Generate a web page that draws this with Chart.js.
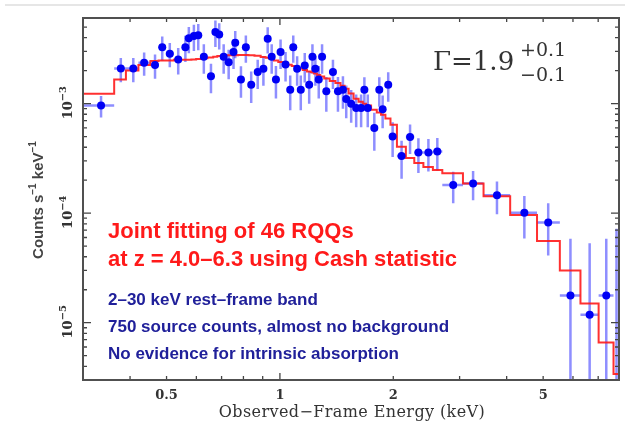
<!DOCTYPE html>
<html>
<head>
<meta charset="utf-8">
<script src="https://cdn.jsdelivr.net/npm/chart.js@4.4.0/dist/chart.umd.min.js"></script>
<style>
  body { margin: 0; background: #fff; }
  #wrap { position: relative; width: 627px; height: 425px; }
  #topline { position: absolute; left: 5px; top: 4px; width: 620px; height: 2px; background: #e6e6e6; }
  canvas { position: absolute; left: 0; top: 0; }
</style>
</head>
<body>
<div id="wrap">
  <div id="topline"></div>
  <canvas id="chartSpectrum" width="627" height="425"></canvas>
</div>
<script>
// observed-frame energy of each bin centre (keV)
const energy = [
  0.335, 0.378, 0.408, 0.436, 0.466, 0.487, 0.510, 0.537, 0.561, 0.573,
  0.591, 0.607, 0.628, 0.656, 0.674, 0.690, 0.709, 0.731, 0.753, 0.761,
  0.788, 0.812, 0.839, 0.873, 0.904, 0.928, 0.951, 0.976, 1.004, 1.035,
  1.065, 1.085, 1.111, 1.136, 1.164, 1.196, 1.220, 1.242, 1.268, 1.294,
  1.328, 1.383, 1.426, 1.470, 1.500, 1.546, 1.594, 1.643, 1.676, 1.711,
  1.781, 1.836, 1.874, 1.939, 1.992, 2.104, 2.216, 2.332, 2.479, 2.618,
  2.885, 3.258, 3.770, 4.457, 5.157, 5.908, 6.644, 7.355, 7.830
];
// counts s^-1 keV^-1
const counts = [
  9.6e-4, 2.09e-3, 2.09e-3, 2.36e-3, 2.25e-3, 3.28e-3, 2.86e-3, 2.53e-3, 3.28e-3, 3.95e-3,
  4.14e-3, 4.20e-3, 2.68e-3, 1.78e-3, 4.51e-3, 4.27e-3, 2.68e-3, 2.39e-3, 2.96e-3, 3.60e-3,
  1.66e-3, 3.28e-3, 1.49e-3, 1.94e-3, 2.08e-3, 3.92e-3, 2.68e-3, 1.66e-3, 2.96e-3, 2.28e-3,
  1.34e-3, 3.28e-3, 2.08e-3, 1.34e-3, 2.23e-3, 1.49e-3, 2.68e-3, 2.08e-3, 1.66e-3, 2.68e-3,
  1.30e-3, 1.94e-3, 1.30e-3, 1.34e-3, 1.10e-3, 1.00e-3, 9.1e-4, 9.1e-4, 1.34e-3, 9.1e-4,
  5.98e-4, 1.34e-3, 8.9e-4, 1.49e-3, 5.0e-4, 3.33e-4, 4.95e-4, 3.58e-4, 3.58e-4, 3.65e-4,
  1.81e-4, 1.87e-4, 1.46e-4, 1.01e-4, 8.2e-5, 1.77e-5, 1.18e-5, 1.77e-5, 2.0e-6
];
// 1-sigma error as a fraction of the value
const relErr = [
  0.22, 0.25, 0.25, 0.24, 0.25, 0.25, 0.25, 0.27, 0.27, 0.27,
  0.27, 0.27, 0.30, 0.30, 0.27, 0.27, 0.30, 0.30, 0.30, 0.28,
  0.32, 0.28, 0.32, 0.30, 0.30, 0.27, 0.30, 0.33, 0.30, 0.30,
  0.35, 0.28, 0.30, 0.35, 0.30, 0.33, 0.30, 0.30, 0.33, 0.30,
  0.35, 0.30, 0.35, 0.33, 0.33, 0.33, 0.33, 0.33, 0.30, 0.33,
  0.38, 0.30, 0.33, 0.30, 0.35, 0.38, 0.30, 0.35, 0.33, 0.33,
  0.32, 0.30, 0.33, 0.42, 0.50, 2.3, 3.5, 2.3, 35
];
// bin edges (keV), one more than the bins
const binEdges = [
  0.300, 0.363, 0.390, 0.421, 0.453, 0.476, 0.498, 0.523, 0.549, 0.567,
  0.582, 0.599, 0.617, 0.642, 0.665, 0.682, 0.700, 0.720, 0.742, 0.757,
  0.774, 0.800, 0.825, 0.856, 0.889, 0.916, 0.939, 0.964, 0.990, 1.020,
  1.050, 1.075, 1.098, 1.124, 1.150, 1.180, 1.208, 1.231, 1.255, 1.280,
  1.311, 1.356, 1.404, 1.448, 1.485, 1.522, 1.569, 1.618, 1.660, 1.694,
  1.746, 1.808, 1.855, 1.906, 1.966, 2.045, 2.160, 2.274, 2.404, 2.548,
  2.699, 3.062, 3.473, 4.087, 4.816, 5.537, 6.281, 7.019, 7.688, 8.220
];
// best-fit power law folded through the response, per bin
const model = [
  1.23e-3, 1.66e-3, 2.01e-3, 2.25e-3, 2.45e-3, 2.48e-3, 2.48e-3, 2.51e-3, 2.51e-3, 2.51e-3,
  2.53e-3, 2.56e-3, 2.59e-3, 2.64e-3, 2.68e-3, 2.72e-3, 2.74e-3, 2.76e-3, 2.77e-3, 2.77e-3,
  2.78e-3, 2.78e-3, 2.77e-3, 2.73e-3, 2.67e-3, 2.63e-3, 2.56e-3, 2.48e-3, 2.40e-3, 2.33e-3,
  2.26e-3, 2.21e-3, 2.14e-3, 2.09e-3, 2.03e-3, 1.97e-3, 1.93e-3, 1.88e-3, 1.83e-3, 1.77e-3,
  1.70e-3, 1.61e-3, 1.54e-3, 1.46e-3, 1.37e-3, 1.24e-3, 1.11e-3, 1.04e-3, 1.00e-3, 9.6e-4,
  8.8e-4, 8.3e-4, 7.9e-4, 7.3e-4, 6.4e-4, 4.05e-4, 3.19e-4, 2.87e-4, 2.64e-4, 2.48e-4,
  2.31e-4, 1.87e-4, 1.43e-4, 9.6e-5, 5.57e-5, 3.0e-5, 1.50e-5, 6.6e-6, 3.4e-6
];

const xTickLabels = [0.5, 1, 2, 5];
const xTickMarks = [0.4, 0.5, 0.6, 0.7, 0.8, 0.9, 1, 2, 3, 4, 5, 6, 7];
const yDecades = [-3, -4, -5];

const BLUE = "#0000f5";
const ERR_BLUE = "rgba(50, 50, 255, 0.55)";

const points = energy.map((e, i) => ({ x: e, y: counts[i] }));
const modelSteps = binEdges.map((e, i) => ({ x: e, y: model[Math.min(i, model.length - 1)] }));

const errorBars = {
  id: "errorBars",
  beforeDatasetsDraw(chart) {
    const { ctx, chartArea: a, scales: { x, y } } = chart;
    ctx.save();
    ctx.beginPath();
    ctx.rect(a.left, a.top, a.right - a.left, a.bottom - a.top);
    ctx.clip();
    ctx.strokeStyle = ERR_BLUE;
    ctx.lineWidth = 2.5;
    energy.forEach((e, i) => {
      const c = counts[i], s = c * relErr[i];
      const px = x.getPixelForValue(e), py = y.getPixelForValue(c);
      const top = y.getPixelForValue(c + s);
      const bot = c - s > 0 ? y.getPixelForValue(c - s) : a.bottom + 5;
      ctx.beginPath();
      ctx.moveTo(px, top); ctx.lineTo(px, bot);
      ctx.moveTo(x.getPixelForValue(binEdges[i]), py);
      ctx.lineTo(x.getPixelForValue(binEdges[i + 1]), py);
      ctx.stroke();
    });
    ctx.restore();
  }
};

function drawRotated(ctx, cx, cy, parts) {
  ctx.save();
  ctx.translate(cx, cy);
  ctx.rotate(-Math.PI / 2);
  ctx.textBaseline = "alphabetic";
  ctx.textAlign = "left";
  let w = 0;
  parts.forEach(p => { ctx.font = p.font; p.w = ctx.measureText(p.text).width; w += p.w; });
  let xx = -w / 2;
  parts.forEach(p => { ctx.font = p.font; ctx.fillText(p.text, xx, p.dy || 0); xx += p.w; });
  ctx.restore();
}

const frameAndText = {
  id: "frameAndText",
  afterDraw(chart) {
    const { ctx, chartArea: a, scales: { x, y } } = chart;
    ctx.save();
    // ticks (inside the box, on all four sides)
    ctx.strokeStyle = "#444";
    ctx.lineWidth = 1.3;
    ctx.beginPath();
    xTickMarks.forEach(v => {
      const px = x.getPixelForValue(v);
      const len = v === 1 ? 7 : 4;
      ctx.moveTo(px, a.bottom); ctx.lineTo(px, a.bottom - len);
      ctx.moveTo(px, a.top); ctx.lineTo(px, a.top + len);
    });
    for (let k = -6; k <= -3; k++) {
      for (let m = 1; m <= 9; m++) {
        const v = m * Math.pow(10, k);
        if (v < y.min || v > y.max) continue;
        const py = y.getPixelForValue(v);
        const len = m === 1 ? 8 : 4;
        ctx.moveTo(a.left, py); ctx.lineTo(a.left + len, py);
        ctx.moveTo(a.right, py); ctx.lineTo(a.right - len, py);
      }
    }
    ctx.stroke();
    // frame
    ctx.lineWidth = 2;
    ctx.strokeStyle = "#505050";
    ctx.strokeRect(a.left, a.top, a.right - a.left, a.bottom - a.top);

    // y tick labels 10^-n
    ctx.fillStyle = "#333";
    yDecades.forEach(k => {
      const py = y.getPixelForValue(Math.pow(10, k));
      drawRotated(ctx, 72, py - 1, [
        { text: "10", font: "bold 13px 'DejaVu Serif'" },
        { text: "\u2212" + Math.abs(k), font: "bold 10px 'DejaVu Serif'", dy: -6 }
      ]);
    });
    // y title
    ctx.fillStyle = "#444";
    drawRotated(ctx, 43, 200, [
      { text: "Counts s", font: "bold 15px 'Liberation Sans'" },
      { text: "\u22121", font: "bold 10px 'Liberation Sans'", dy: -7 },
      { text: " keV", font: "bold 15px 'Liberation Sans'" },
      { text: "\u22121", font: "bold 10px 'Liberation Sans'", dy: -7 }
    ]);
    // x title
    ctx.fillStyle = "#333";
    ctx.textAlign = "center";
    ctx.font = "16px 'DejaVu Serif'";
    ctx.letterSpacing = "0.4px";
    ctx.fillText("Observed\u2212Frame Energy (keV)", 352, 417);
    ctx.letterSpacing = "0px";

    // photon index label
    ctx.textAlign = "left";
    ctx.fillStyle = "#333";
    ctx.font = "26px 'DejaVu Serif'";
    ctx.fillText("\u0393=1.9", 433, 70);
    ctx.font = "19px 'DejaVu Serif'";
    ctx.fillText("+0.1", 520, 56);
    ctx.fillText("\u22120.1", 520, 81);

    // annotations
    ctx.fillStyle = "#ff1a1a";
    ctx.font = "bold 22px 'Liberation Sans'";
    ctx.fillText("Joint fitting of 46 RQQs", 108, 238);
    ctx.fillText("at z = 4.0\u20136.3 using Cash statistic", 108, 266);
    ctx.fillStyle = "#20209a";
    ctx.font = "bold 17px 'Liberation Sans'";
    ctx.fillText("2\u201330 keV rest\u2013frame band", 108, 305);
    ctx.fillText("750 source counts, almost no background", 108, 332);
    ctx.fillText("No evidence for intrinsic absorption", 108, 359);
    ctx.restore();
  }
};

const canvas = document.getElementById("chartSpectrum");
new Chart(canvas.getContext("2d"), {
  type: "scatter",
  data: {
    datasets: [
      {
        type: "line",
        label: "Model",
        data: modelSteps,
        stepped: "before",
        borderColor: "rgba(255, 25, 25, 0.9)",
        borderWidth: 2,
        pointRadius: 0,
        fill: false,
        order: 2,
      },
      {
        type: "scatter",
        label: "Data",
        data: points,
        pointRadius: 4,
        pointHoverRadius: 4,
        backgroundColor: BLUE,
        borderWidth: 0,
        order: 1,
      },
    ],
  },
  options: {
    responsive: false,
    animation: false,
    events: [],
    layout: { padding: { top: 18, right: 8, left: 0, bottom: 0 } },
    plugins: { legend: { display: false }, tooltip: { enabled: false } },
    scales: {
      x: {
        type: "logarithmic",
        min: 0.305,
        max: 7.95,
        afterBuildTicks: s => { s.ticks = xTickLabels.map(v => ({ value: v })); },
        afterFit: s => { s.height = 45; },
        ticks: {
          autoSkip: false,
          maxRotation: 0,
          padding: 8,
          color: "#333",
          font: { family: "DejaVu Serif", size: 13, weight: "bold" },
          callback: v => String(v),
        },
        grid: { display: false, drawTicks: false },
        border: { display: false },
      },
      y: {
        type: "logarithmic",
        min: 3.0e-6,
        max: 6.05e-3,
        afterFit: s => { s.width = 83; },
        ticks: { display: false },
        grid: { display: false, drawTicks: false },
        border: { display: false },
      },
    },
  },
  plugins: [errorBars, frameAndText],
});
</script>
</body>
</html>
